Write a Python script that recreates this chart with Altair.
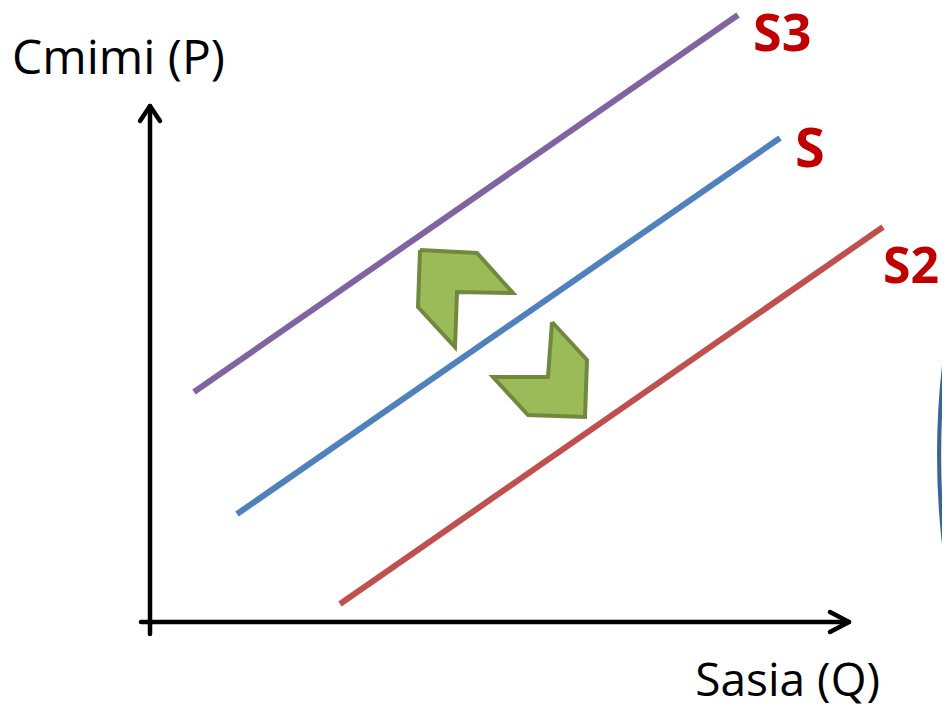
import altair as alt
import pandas as pd

# Diagram coordinates: Q (quantity) across, P (price) up; origin at the axes corner
curve_names = ["S3", "S", "S2"]
curve_colors = ["#8064A2", "#4F81BD", "#C0504D"]
curve_q = [[44, 588], [87, 630], [190, 733]]
curve_p = [[230, 607], [108, 484], [18, 395]]

label_q = [603, 645, 733]
label_p = [571, 455, 339]
label_size = [52, 54, 50]

# shift arrows (chevrons)
chev_up_q = [270, 327, 363, 307, 305, 268, 270]
chev_up_p = [372, 369, 329, 330, 275, 315, 372]
chev_dn_q = [402, 437, 435, 378, 343, 398, 402]
chev_dn_p = [300, 262, 205, 207, 245, 245, 300]

# axes
yaxis_q = [0, 0]
yaxis_p = [-12, 516]
yhead_q = [-10, 0, 10]
yhead_p = [501, 516, 501]
xaxis_q = [-9, 699]
xaxis_p = [0, 0]
xhead_q = [680, 699, 680]
xhead_p = [10, 0, -10]

title_texts = ["Cmimi (P)", "Sasia (Q)"]
title_q = [-138, 730]
title_p = [548, -74]

# decorative oval at right edge
oval_q = [1575]
oval_p = [167]

XS = alt.Scale(domain=[-142, 792])
YS = alt.Scale(domain=[-86, 614])


def xy(extra=None):
    enc = dict(x=alt.X("q:Q", scale=XS, axis=None), y=alt.Y("p:Q", scale=YS, axis=None))
    if extra:
        enc.update(extra)
    return enc


rows = []
for n, c, qs, ps in zip(curve_names, curve_colors, curve_q, curve_p):
    for i, (q, p) in enumerate(zip(qs, ps)):
        rows.append({"name": n, "color": c, "q": q, "p": p, "i": i})
curves = pd.DataFrame(rows)

curve_layer = alt.Chart(curves).mark_line(strokeWidth=6, strokeCap="butt").encode(
    **xy({"color": alt.Color("color:N", scale=None), "detail": "name:N", "order": "i:O"})
)

labels = pd.DataFrame({"name": curve_names, "q": label_q, "p": label_p, "s": label_size})
label_layer = alt.Chart(labels).mark_text(
    align="left", baseline="alphabetic", font="Noto Sans", fontWeight="bold",
    color="#C00000"
).encode(**xy({"text": "name:N", "size": alt.Size("s:Q", scale=None)}))


def poly(qs, ps, fill, stroke, sw):
    df = pd.DataFrame({"q": qs, "p": ps, "i": list(range(len(qs)))})
    return alt.Chart(df).mark_line(
        fill=fill, stroke=stroke, strokeWidth=sw, strokeJoin="miter"
    ).encode(**xy({"order": "i:O"}))


chev1 = poly(chev_up_q, chev_up_p, "#9BBB59", "#71893F", 4)
chev2 = poly(chev_dn_q, chev_dn_p, "#9BBB59", "#71893F", 4)


def stroke_path(qs, ps):
    df = pd.DataFrame({"q": qs, "p": ps, "i": list(range(len(qs)))})
    return alt.Chart(df).mark_line(
        color="black", strokeWidth=4.5, strokeCap="round", strokeJoin="round"
    ).encode(**xy({"order": "i:O"}))


axes_layers = [
    stroke_path(yaxis_q, yaxis_p),
    stroke_path(yhead_q, yhead_p),
    stroke_path(xaxis_q, xaxis_p),
    stroke_path(xhead_q, xhead_p),
]

titles = pd.DataFrame({"t": title_texts, "q": title_q, "p": title_p})
title_left = alt.Chart(titles.iloc[[0]]).mark_text(
    align="left", baseline="alphabetic", font="Open Sans", fontSize=48, color="#000000"
).encode(**xy({"text": "t:N"}))
title_right = alt.Chart(titles.iloc[[1]]).mark_text(
    align="right", baseline="alphabetic", font="Open Sans", fontSize=46, color="#000000"
).encode(**xy({"text": "t:N"}))

oval = alt.Chart(pd.DataFrame({"q": oval_q, "p": oval_p})).mark_point(
    shape="circle", size=1572 * 1572, fill="#F2DCDB", fillOpacity=1,
    stroke="#3A6496", strokeWidth=4, opacity=1
).encode(**xy())

chart = alt.layer(
    oval, *axes_layers, curve_layer, chev1, chev2, label_layer, title_left, title_right
).properties(
    width=934, height=700, padding=0, autosize=alt.AutoSizeParams(type="none")
).configure_view(stroke=None)

chart.save("out.html", embed_options={"renderer": "svg", "actions": False})
